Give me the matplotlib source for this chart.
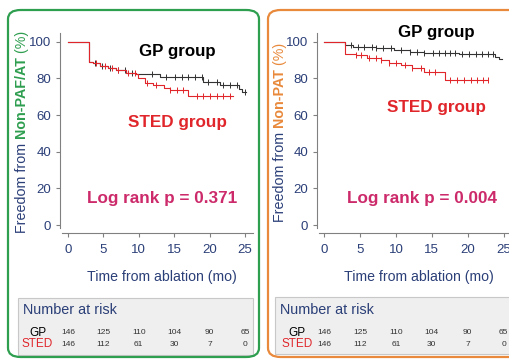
import matplotlib
matplotlib.use("Agg")
import matplotlib.pyplot as plt
import numpy as np
from matplotlib.patches import FancyBboxPatch

plt.rcParams['font.family'] = ['Liberation Sans', 'DejaVu Sans']

W, H = 510, 361
NAVY = '#2b3f78'
GREEN = '#2e9e4f'
ORANGE = '#e8893b'
RED = '#e0262b'
PINK = '#cc2a6a'
GREY = '#808080'

risk_times = [0, 5, 10, 15, 20, 25]
gp_at_risk = [146, 125, 110, 104, 90, 65]
sted_at_risk = [146, 112, 61, 30, 7, 0]
xticks = [0, 5, 10, 15, 20, 25]
yticks = [0, 20, 40, 60, 80, 100]

# left panel: freedom from non-PAF/AT
paf_gp_t = [0, 2.9, 3.5, 4.5, 5.6, 6.8, 8.2, 9.6, 13.0, 19.1, 21.5, 24.1, 24.6]
paf_gp_s = [100, 89.1, 88.4, 86.8, 85.5, 84.6, 83.1, 82.4, 80.6, 78.2, 76.4, 74.0, 72.4]
paf_gp_end = 25.2
paf_gp_cens = [3.8, 4.8, 5.9, 7.1, 8.0, 9.0, 11.8, 13.9, 15.1, 16.1, 17.0, 17.9,
               18.9, 19.8, 21.0, 21.9, 22.9, 23.8, 25.0]
paf_sted_t = [0, 2.9, 3.5, 4.5, 5.6, 6.8, 8.2, 9.6, 9.9, 10.9, 12.0, 13.5, 14.4, 17.0]
paf_sted_s = [100, 89.1, 88.4, 86.8, 85.5, 84.6, 83.1, 82.4, 80.0, 77.7, 76.5, 74.6, 73.7, 70.5]
paf_sted_end = 23.3
paf_sted_cens = [4.0, 5.2, 6.2, 7.1, 8.5, 9.5, 11.1, 12.5, 14.4, 15.4, 16.3, 18.2,
                 19.1, 20.1, 21.0, 21.9, 22.9]

# right panel: freedom from non-PAT
pat_gp_t = [0, 2.9, 4.0, 7.2, 9.8, 11.9, 13.9, 18.8, 23.8, 24.3]
pat_gp_s = [100, 98.2, 97.3, 96.4, 95.5, 94.6, 94.0, 93.3, 91.8, 90.6]
pat_gp_end = 24.8
pat_gp_cens = [3.8, 4.7, 5.6, 6.6, 7.2, 8.2, 9.3, 10.7, 11.9, 13.0, 13.9, 15.1,
               16.0, 16.9, 17.6, 18.3, 19.2, 20.2, 21.1, 22.0, 22.9, 23.6]
pat_sted_t = [0, 2.9, 4.5, 5.9, 7.9, 9.1, 10.7, 12.3, 13.9, 16.9]
pat_sted_s = [100, 93.3, 92.7, 90.9, 90.0, 88.6, 87.3, 85.5, 83.7, 79.1]
pat_sted_end = 22.9
pat_sted_cens = [4.5, 5.2, 6.3, 7.2, 7.9, 9.1, 10.0, 11.2, 12.3, 13.5, 14.6, 15.5,
                 17.6, 18.5, 19.5, 20.4, 21.3, 22.2, 22.9]


def km(ax, t, s, end, cens, color):
    t = np.array(t + [end])
    s = np.array(s + [s[-1]])
    ax.step(t, s, where='post', color=color, lw=0.8)
    idx = np.searchsorted(t, cens, side='right') - 1
    ax.plot(cens, s[idx], ls='none', marker='|', ms=4, mew=0.7, color=color)


def setup_axes(rect, xlim):
    ax = fig.add_axes(rect)
    ax.set_xlim(*xlim)
    ax.set_ylim(-4.25, 104.7)
    for side in ['top', 'right']:
        ax.spines[side].set_visible(False)
    for side in ['left', 'bottom']:
        ax.spines[side].set_color(GREY)
        ax.spines[side].set_linewidth(0.8)
    ax.spines['left'].set_bounds(-1.5, 104.7)
    ax.spines['bottom'].set_bounds(xlim[0] + 0.3, xlim[1])
    ax.set_xticks(xticks)
    ax.set_yticks(yticks)
    ax.tick_params(colors=GREY, labelcolor=NAVY, labelsize=9.5, length=3, width=0.8)
    ax.tick_params(axis='x', pad=5)
    ax.patch.set_alpha(0)
    return ax


def ylabel(x, y, color, key):
    t = fig.text(x / W, 1 - y / H, 'Freedom from', rotation=90, color=NAVY,
                 fontsize=10.3, ha='center', va='bottom')
    t2 = plt.annotate(' ' + key, xy=(0.5, 1), xycoords=t, rotation=90, color=color,
                      fontsize=10.3, fontweight='bold', ha='center', va='bottom',
                      annotation_clip=False)
    plt.annotate(' (%)', xy=(0.5, 1), xycoords=t2, rotation=90, color=color,
                 fontsize=10.3, ha='center', va='bottom', annotation_clip=False)


def risk_table(ax, x0, x1, y0, y1, lab_x):
    fig.patches.append(FancyBboxPatch((x0 / W, 1 - y1 / H), (x1 - x0) / W, (y1 - y0) / H,
                                      boxstyle='square,pad=0', transform=fig.transFigure,
                                      fc='#efefef', ec='#c8c8c8', lw=0.8, zorder=-1))
    fig.text((x0 + 5) / W, 1 - 310 / H, 'Number at risk', color=NAVY, fontsize=10.4,
             ha='left', va='center')
    fig.text(lab_x / W, 1 - 333 / H, 'GP', color='black', fontsize=8.5, ha='center', va='center')
    fig.text(lab_x / W, 1 - 344 / H, 'STED', color=RED, fontsize=8.5, ha='center', va='center')
    tr = ax.get_xaxis_transform()
    yg = ax.transAxes.inverted().transform(fig.transFigure.transform((0, 1 - 333 / H)))[1]
    ys = ax.transAxes.inverted().transform(fig.transFigure.transform((0, 1 - 344 / H)))[1]
    for xt, g, s in zip(risk_times, gp_at_risk, sted_at_risk):
        for yy, val in [(yg, g), (ys, s)]:
            ax.text(xt, yy, str(val), transform=tr, fontsize=6, ha='center', va='center',
                    color='#333333', family=['Liberation Sans Narrow', 'Liberation Sans'],
                    clip_on=False)


fig = plt.figure(figsize=(W / 100, H / 100), dpi=100)
fig.patch.set_facecolor('white')

# panel frames
fig.patches.append(FancyBboxPatch((8 / W, 1 - 357 / H), 251 / W, 347 / H,
                                  boxstyle='round,pad=0,rounding_size=0.025',
                                  transform=fig.transFigure, fc='none', ec=GREEN, lw=1.6))
fig.patches.append(FancyBboxPatch((268 / W, 1 - 357 / H), 260 / W, 347 / H,
                                  boxstyle='round,pad=0,rounding_size=0.025',
                                  transform=fig.transFigure, fc='none', ec=ORANGE, lw=1.6))

rect_y = 1 - 233 / H
rect_h = 200 / H
ax1 = setup_axes([60 / W, rect_y, 193 / W, rect_h], (-1.13, 26.13))
ax2 = setup_axes([317 / W, rect_y, 193 / W, rect_h], (-1.0, 25.9))

km(ax1, paf_gp_t, paf_gp_s, paf_gp_end, paf_gp_cens, '#333333')
km(ax1, paf_sted_t, paf_sted_s, paf_sted_end, paf_sted_cens, RED)
km(ax2, pat_gp_t, pat_gp_s, pat_gp_end, pat_gp_cens, '#333333')
km(ax2, pat_sted_t, pat_sted_s, pat_sted_end, pat_sted_cens, RED)

ax1.text(15.5, 94.4, 'GP group', fontsize=12.2, fontweight='bold', ha='center', va='center')
ax1.text(15.5, 56.2, 'STED group', fontsize=12.3, fontweight='bold', color=RED,
         ha='center', va='center')
ax1.text(13.3, 14.3, 'Log rank p = 0.371', fontsize=12.3, fontweight='bold', color=PINK,
         ha='center', va='center')
ax2.text(15.6, 104.7, 'GP group', fontsize=12.2, fontweight='bold', ha='center', va='center',
         clip_on=False)
ax2.text(15.6, 63.9, 'STED group', fontsize=12.3, fontweight='bold', color=RED,
         ha='center', va='center')
ax2.text(13.65, 14.3, 'Log rank p = 0.004', fontsize=12.3, fontweight='bold', color=PINK,
         ha='center', va='center')

fig.text(162 / W, 1 - 277 / H, 'Time from ablation (mo)', color=NAVY, fontsize=10.2,
         ha='center', va='center')
fig.text(419 / W, 1 - 277 / H, 'Time from ablation (mo)', color=NAVY, fontsize=10.2,
         ha='center', va='center')

ylabel(22, 233, GREEN, 'Non-PAF/AT')
ylabel(280, 222, ORANGE, 'Non-PAT')

risk_table(ax1, 18, 253, 298, 355, 37.5)
risk_table(ax2, 275, 516, 297, 354, 297)

fig.savefig('out.png', dpi=100)
